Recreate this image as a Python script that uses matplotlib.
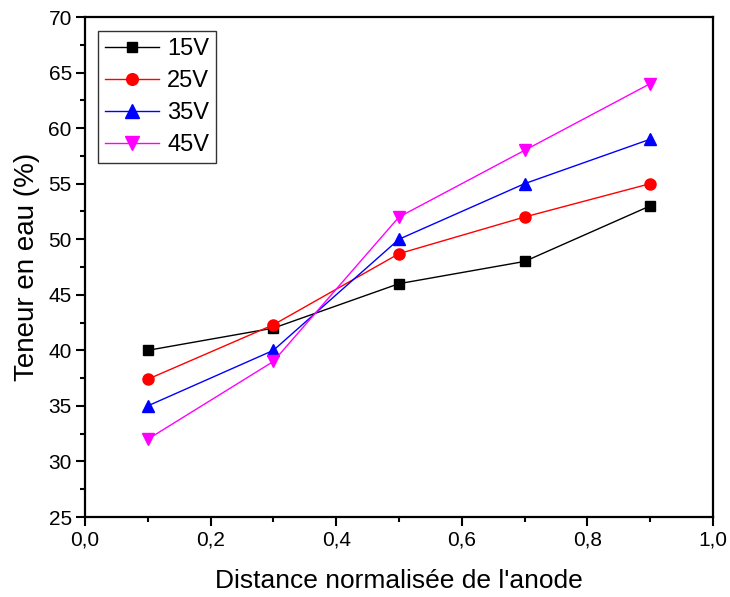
import matplotlib
matplotlib.use("Agg")
import matplotlib.pyplot as plt
from matplotlib.ticker import MultipleLocator, FuncFormatter

plt.rcParams['font.family'] = ['Liberation Sans', 'DejaVu Sans']

distance = [0.1, 0.3, 0.5, 0.7, 0.9]
v15 = [40.0, 42.0, 46.0, 48.0, 53.0]
v25 = [37.4, 42.3, 48.7, 52.0, 55.0]
v35 = [35.0, 40.0, 50.0, 55.0, 59.0]
v45 = [32.0, 39.0, 52.0, 58.0, 64.0]
labels = ["15V", "25V", "35V", "45V"]

fig = plt.figure(figsize=(7.30, 5.97), dpi=100)
ax = fig.add_axes([0.1164, 0.134, 0.8603, 0.8375])

ax.plot(distance, v15, color='black', marker='s', ms=7.2, lw=1.0, label=labels[0])
ax.plot(distance, v25, color='red', marker='o', ms=8, lw=1.0, label=labels[1])
ax.plot(distance, v35, color='blue', marker='^', ms=9, lw=1.0, label=labels[2])
ax.plot(distance, v45, color='magenta', marker='v', ms=9, lw=1.0, label=labels[3])

ax.set_xlim(0.0, 1.0)
ax.set_ylim(25, 70)
ax.xaxis.set_major_locator(MultipleLocator(0.2))
ax.xaxis.set_minor_locator(MultipleLocator(0.1))
ax.yaxis.set_major_locator(MultipleLocator(5))
ax.yaxis.set_minor_locator(MultipleLocator(2.5))
ax.xaxis.set_major_formatter(FuncFormatter(lambda v, p: f"{v:.1f}".replace('.', ',')))

ax.tick_params(which='major', direction='out', length=6.5, width=1.5, labelsize=15, pad=3)
ax.tick_params(which='minor', direction='out', length=3.5, width=1.5)
ax.tick_params(top=False, right=False)
for s in ax.spines.values():
    s.set_linewidth(1.6)

ax.set_xlabel("Distance normalisée de l'anode", fontsize=19, labelpad=14)
ax.set_ylabel("Teneur en eau (%)", fontsize=20, labelpad=6)

leg = ax.legend(loc='upper left', bbox_to_anchor=(0.02, 0.972), fontsize=17,
                frameon=True, fancybox=False, edgecolor='black', handlelength=2.3,
                handletextpad=0.35, borderpad=0.3, labelspacing=0.42, borderaxespad=0,
                markerscale=1.05)
leg.get_frame().set_linewidth(1.0)

fig.savefig("out.png", dpi=100)
